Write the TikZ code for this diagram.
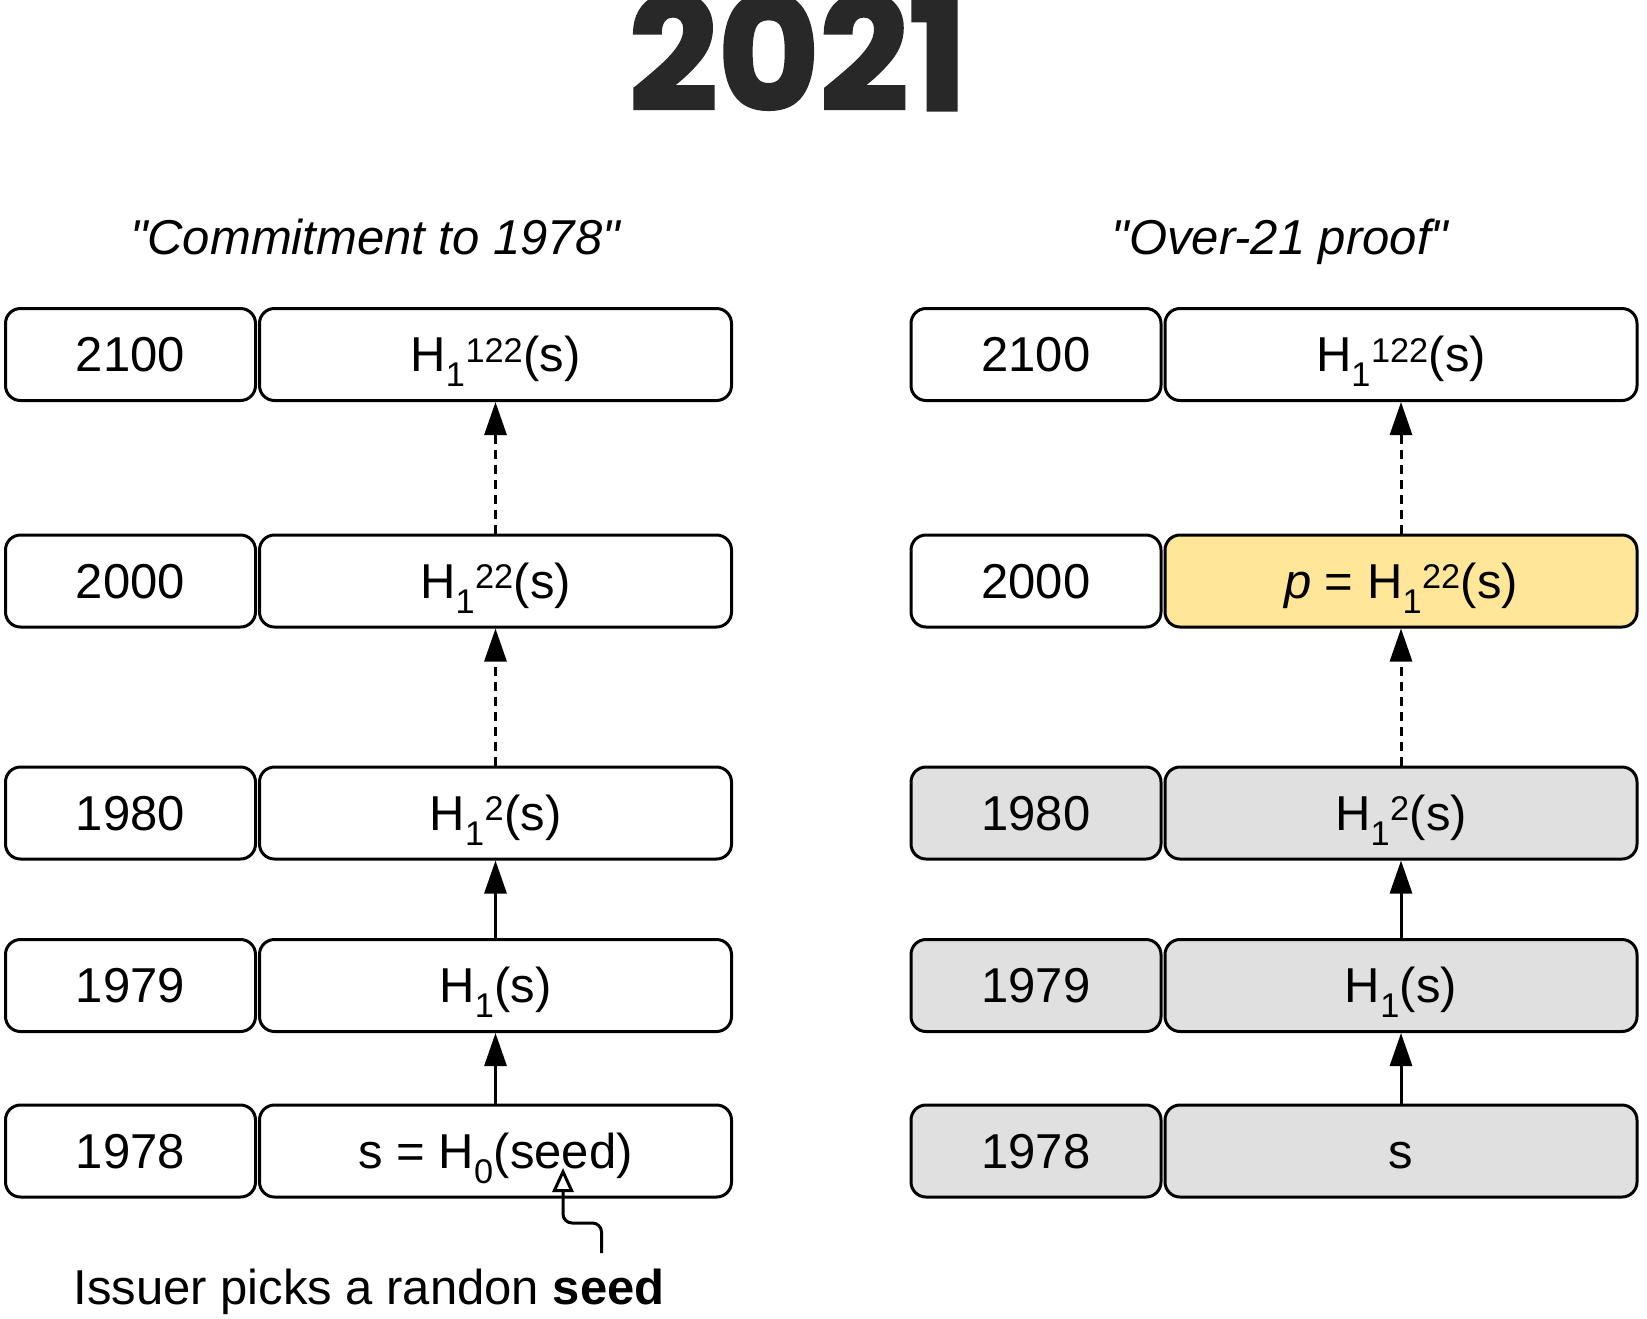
\documentclass[tikz,border=0pt]{standalone}
\usepackage{fontspec}
\setmainfont{Liberation Sans}
\newfontfamily\qfont{Liberation Sans}
\newfontfamily\titlefont{Poppins}[BoldFeatures={FakeBold=2}]
\usetikzlibrary{arrows.meta}
\definecolor{graybox}{HTML}{E0E0E0}
\definecolor{yellowbox}{HTML}{FFE699}
\definecolor{titlegray}{HTML}{282828}
\begin{document}
\begin{tikzpicture}[x=1pt,y=-1pt,
  cell/.style={draw=black, line width=3pt, rounded corners=15pt, minimum height=92pt,
    font=\fontsize{49}{56}\selectfont, inner sep=0pt, text height=34pt, text depth=0pt},
  yearcell/.style={cell, minimum width=250pt},
  valcell/.style={cell, minimum width=472pt},
  grayfill/.style={fill=graybox},
  yellowfill/.style={fill=yellowbox},
  arr/.style={line width=3pt, -{Triangle[length=33pt,width=22pt]}},
  dasharr/.style={arr, dash pattern=on 9pt off 6pt},
  label/.style={font=\fontsize{49}{56}\selectfont, inner sep=0pt, anchor=base},
]
\useasboundingbox (0,0) rectangle (1647,1318);
\fill[white] (0,0) rectangle (1647,1318);

% title
\node[anchor=base, inner sep=0pt, text=titlegray, font=\titlefont\bfseries\fontsize{156}{160}\selectfont] (title) at (798,110) {2021};

% subtitles
\node[label] (subL) at (375,254) {\qfont\itshape "Commitment to 1978"};
\node[label] (subR) at (1280,254) {\qfont\itshape "Over-21 proof"};

% left column
\node[yearcell] (ly2100) at (130.5,354.5) {2100};
\node[valcell]  (lv2100) at (495.5,354.5) {H\textsubscript{1}\textsuperscript{122}(s)};
\node[yearcell] (ly2000) at (130.5,581) {2000};
\node[valcell]  (lv2000) at (495.5,581) {H\textsubscript{1}\textsuperscript{22}(s)};
\node[yearcell] (ly1980) at (130.5,813) {1980};
\node[valcell]  (lv1980) at (495.5,813) {H\textsubscript{1}\textsuperscript{2}(s)};
\node[yearcell] (ly1979) at (130.5,985.5) {1979};
\node[valcell]  (lv1979) at (495.5,985.5) {H\textsubscript{1}(s)};
\node[yearcell] (ly1978) at (130.5,1151) {1978};
\node[valcell]  (lv1978) at (495.5,1151) {s = H\textsubscript{0}(seed)};

% right column
\node[yearcell] (ry2100) at (1036,354.5) {2100};
\node[valcell]  (rv2100) at (1401,354.5) {H\textsubscript{1}\textsuperscript{122}(s)};
\node[yearcell] (ry2000) at (1036,581) {2000};
\node[valcell, yellowfill] (rv2000) at (1401,581) {\textit{p} = H\textsubscript{1}\textsuperscript{22}(s)};
\node[yearcell, grayfill] (ry1980) at (1036,813) {1980};
\node[valcell, grayfill]  (rv1980) at (1401,813) {H\textsubscript{1}\textsuperscript{2}(s)};
\node[yearcell, grayfill] (ry1979) at (1036,985.5) {1979};
\node[valcell, grayfill]  (rv1979) at (1401,985.5) {H\textsubscript{1}(s)};
\node[yearcell, grayfill] (ry1978) at (1036,1151) {1978};
\node[valcell, grayfill]  (rv1978) at (1401,1151) {s};

% arrows left
\draw[arr] (lv1978.north) -- (lv1979.south);
\draw[arr] (lv1979.north) -- (lv1980.south);
\draw[dasharr] (lv1980.north) -- (lv2000.south);
\draw[dasharr] (lv2000.north) -- (lv2100.south);
% arrows right
\draw[arr] (rv1978.north) -- (rv1979.south);
\draw[arr] (rv1979.north) -- (rv1980.south);
\draw[dasharr] (rv1980.north) -- (rv2000.south);
\draw[dasharr] (rv2000.north) -- (rv2100.south);

% seed annotation
\node[label] (seedtxt) at (369,1304) {Issuer picks a randon \textbf{seed}};
\coordinate (seedstart) at (601.5,1253);
\coordinate (seedtip) at (563,1168);
\draw[line width=3pt, rounded corners=9pt, -{Triangle[open, fill=white, length=24pt, width=21pt]}]
  (seedstart) -- (601.5,1223) -- (563,1223) -- (seedtip);
\end{tikzpicture}
\end{document}
